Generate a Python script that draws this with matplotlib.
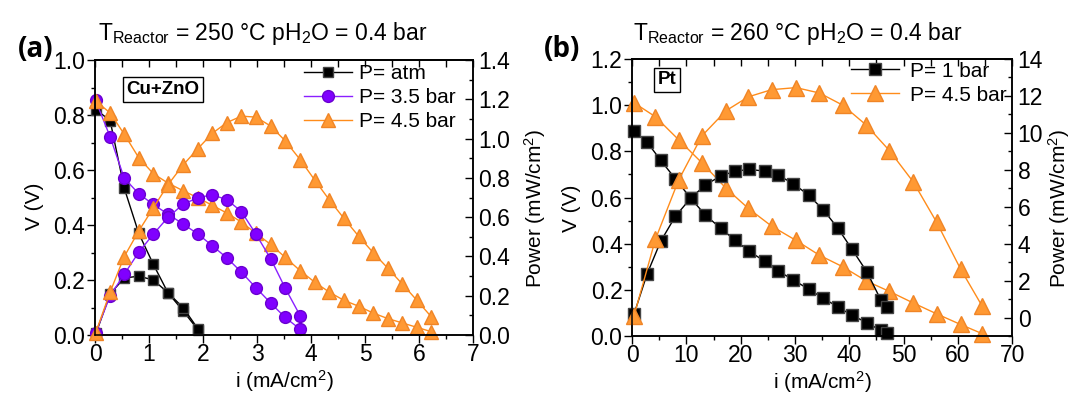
import matplotlib
matplotlib.use("Agg")
import matplotlib.pyplot as plt
from matplotlib.ticker import MultipleLocator

plt.rcParams['font.family'] = ['Liberation Sans', 'DejaVu Sans']
plt.rcParams['mathtext.fontset'] = 'custom'
plt.rcParams['mathtext.rm'] = 'Liberation Sans'
plt.rcParams['mathtext.it'] = 'Liberation Sans:italic'
plt.rcParams['mathtext.bf'] = 'Liberation Sans:bold'
plt.rcParams['axes.linewidth'] = 1.1

# ================= data, panel (a): Cu+ZnO, 250 C =================
i_a_atm = [0.02, 0.28, 0.54, 0.81, 1.08, 1.35, 1.63, 1.91]
v_a_atm = [0.82, 0.78, 0.535, 0.37, 0.257, 0.154, 0.088, 0.018]
p_a_atm = [0.01, 0.21, 0.29, 0.30, 0.28, 0.216, 0.14, 0.03]

i_a_35 = [0.01, 0.28, 0.54, 0.81, 1.08, 1.35, 1.63, 1.91, 2.17, 2.44, 2.71, 2.98, 3.26, 3.52, 3.80]
v_a_35 = [0.854, 0.721, 0.571, 0.514, 0.475, 0.44, 0.404, 0.367, 0.325, 0.281, 0.229, 0.172, 0.115, 0.064, 0.021]
p_a_35 = [0.01, 0.20, 0.309, 0.422, 0.514, 0.599, 0.666, 0.70, 0.714, 0.69, 0.629, 0.514, 0.385, 0.24, 0.098]

i_a_45 = [0.01, 0.28, 0.54, 0.81, 1.08, 1.35, 1.63, 1.90, 2.17, 2.44, 2.71, 2.98,
          3.25, 3.52, 3.80, 4.07, 4.34, 4.61, 4.88, 5.15, 5.42, 5.69, 5.96, 6.23]
v_a_45 = [0.852, 0.808, 0.731, 0.645, 0.587, 0.553, 0.525, 0.50, 0.472, 0.444, 0.411, 0.37,
          0.33, 0.283, 0.234, 0.192, 0.156, 0.126, 0.105, 0.08, 0.06, 0.044, 0.028, 0.012]
p_a_45 = [0.01, 0.219, 0.399, 0.53, 0.648, 0.765, 0.866, 0.948, 1.027, 1.082, 1.115, 1.11,
          1.065, 0.99, 0.893, 0.789, 0.688, 0.594, 0.504, 0.42, 0.341, 0.26, 0.177, 0.092]

# ================= data, panel (b): Pt, 260 C =================
i_b_1 = [0.37, 2.76, 5.27, 7.97, 10.78, 13.5, 16.3, 19.0, 21.6, 24.4, 26.96, 29.7,
         32.5, 35.2, 37.9, 40.5, 43.3, 45.8, 46.9]
v_b_1 = [0.886, 0.84, 0.761, 0.681, 0.597, 0.524, 0.467, 0.414, 0.367, 0.324, 0.281, 0.243,
         0.203, 0.164, 0.126, 0.09, 0.057, 0.024, 0.014]
p_b_1 = [0.2, 2.36, 4.13, 5.48, 6.46, 7.18, 7.66, 7.93, 8.02, 7.93, 7.70, 7.25,
         6.63, 5.84, 4.84, 3.70, 2.45, 0.96, 0.57]

i_b_45 = [0.37, 4.29, 8.58, 12.87, 17.3, 21.4, 25.7, 30.2, 34.5, 38.8, 43.1, 47.4,
          51.8, 56.1, 60.5, 64.5]
v_b_45 = [1.01, 0.95, 0.85, 0.75, 0.64, 0.553, 0.476, 0.414, 0.35, 0.30, 0.239, 0.193,
          0.143, 0.096, 0.05, 0.01]
p_b_45 = [0.11, 4.23, 7.45, 9.84, 11.2, 11.95, 12.34, 12.45, 12.16, 11.5, 10.43, 9.04,
          7.34, 5.16, 2.63, 0.61]

labels_a = ["P= atm", "P= 3.5 bar", "P= 4.5 bar"]
labels_b = ["P= 1 bar", "P= 4.5 bar"]

# ================= styles =================
BLACK = dict(color='black', marker='s', mfc='black', mec='#444444', lw=1.0)
PURPLE = dict(color='#8A1FFF', marker='o', mfc='#8000FF', mec='#6A00D0', lw=1.0)
ORANGE = dict(color='#FF8C1A', marker='^', mfc='#FF9933', mec='#F08526', lw=1.0)
FS = 15      # axis labels, legend
TFS = 16.5   # tick labels, header


def style_panel(ax, ax2, xmax, xmaj, xmin, ymax, ymaj, ymin, p_lim, pmaj, pmin):
    ax.set_xlim(0, xmax)
    ax.set_ylim(0, ymax)
    ax.xaxis.set_major_locator(MultipleLocator(xmaj))
    ax.xaxis.set_minor_locator(MultipleLocator(xmin))
    ax.yaxis.set_major_locator(MultipleLocator(ymaj))
    ax.yaxis.set_minor_locator(MultipleLocator(ymin))
    ax.tick_params(which='both', direction='out', labelsize=TFS, pad=1, width=1.0)
    ax.tick_params(axis='x', which='both', pad=0)
    ax.tick_params(which='major', length=6)
    ax.tick_params(which='minor', length=3)

    # ticks pointing inward along the top edge
    top = ax.secondary_xaxis('top')
    top.xaxis.set_major_locator(MultipleLocator(xmaj))
    top.xaxis.set_minor_locator(MultipleLocator(xmin))
    top.tick_params(which='both', direction='in', labeltop=False, length=5, width=1.0)

    ax2.set_ylim(*p_lim)
    ax2.yaxis.set_major_locator(MultipleLocator(pmaj))
    ax2.yaxis.set_minor_locator(MultipleLocator(pmin))
    ax2.tick_params(which='both', direction='in', labelsize=TFS, pad=4, width=1.0)
    ax2.tick_params(which='major', length=6)
    ax2.tick_params(which='minor', length=3)

    ax.set_xlabel("i (mA/cm$^2$)", fontsize=FS)
    ax.set_ylabel("V (V)", fontsize=FS)
    ax2.set_ylabel("Power (mW/cm$^2$)", fontsize=FS)


fig = plt.figure(figsize=(10.75, 3.96), dpi=100)

# ---------- panel (a) ----------
axA = fig.add_axes([0.0884, 0.154, 0.3516, 0.694])
axA2 = axA.twinx()
style_panel(axA, axA2, 7, 1, 0.5, 1.0, 0.2, 0.1, (0, 1.4), 0.2, 0.1)

hA = []
hA += axA.plot(i_a_atm, v_a_atm, ms=6.5, clip_on=False, label=labels_a[0], **BLACK)
hA += axA.plot(i_a_35, v_a_35, ms=8.5, clip_on=False, label=labels_a[1], **PURPLE)
hA += axA.plot(i_a_45, v_a_45, ms=10.5, clip_on=False, label=labels_a[2], **ORANGE)
axA2.plot(i_a_atm, p_a_atm, ms=6.5, clip_on=False, **BLACK)
axA2.plot(i_a_35, p_a_35, ms=8.5, clip_on=False, **PURPLE)
axA2.plot(i_a_45, p_a_45, ms=10.5, clip_on=False, **ORANGE)

axA2.legend(handles=hA, loc='upper right', bbox_to_anchor=(0.955, 0.985), frameon=False,
            fontsize=FS, borderpad=0, borderaxespad=0, handlelength=2.3,
            handletextpad=0.35, labelspacing=0.24, numpoints=1)

axA.text(0.18, 0.893, "Cu+ZnO", transform=axA.transAxes, fontsize=13.5, fontweight='bold',
         ha='center', va='center', zorder=5,
         bbox=dict(boxstyle='square,pad=0.2', fc='white', ec='black', lw=1.0))

axA.yaxis.set_label_coords(-0.135, 0.47)
axA2.yaxis.set_label_coords(1.13, 0.46)
axA.xaxis.set_label_coords(0.5, -0.12)

# ---------- panel (b) ----------
axB = fig.add_axes([0.588, 0.1515, 0.3535, 0.6995])
axB2 = axB.twinx()
style_panel(axB, axB2, 70, 10, 5, 1.2, 0.2, 0.1, (-1, 14), 2, 1)

hB = []
hB += axB.plot(i_b_1, v_b_1, ms=9, clip_on=False, label=labels_b[0], **BLACK)
hB += axB.plot(i_b_45, v_b_45, ms=11, clip_on=False, label=labels_b[1], **ORANGE)
axB2.plot(i_b_1, p_b_1, ms=9, clip_on=False, **BLACK)
axB2.plot(i_b_45, p_b_45, ms=11, clip_on=False, **ORANGE)

axB2.legend(handles=hB, loc='upper right', bbox_to_anchor=(0.985, 0.99), frameon=False,
            fontsize=FS, borderpad=0, borderaxespad=0, handlelength=2.3,
            handletextpad=0.5, labelspacing=0.24, numpoints=1)

axB.text(0.091, 0.925, "Pt", transform=axB.transAxes, fontsize=13.5, fontweight='bold',
         ha='center', va='center', zorder=5,
         bbox=dict(boxstyle='square,pad=0.2', fc='white', ec='black', lw=1.0))

axB.yaxis.set_label_coords(-0.135, 0.46)
axB2.yaxis.set_label_coords(1.09, 0.46)
axB.xaxis.set_label_coords(0.5, -0.12)

# ---------- headers ----------
fig.text(0.091, 0.899, r"T$_{\mathrm{Reactor}}$ = 250 °C pH$_{\mathrm{2}}$O = 0.4 bar",
         fontsize=TFS, ha='left', va='baseline')
fig.text(0.589, 0.899, r"T$_{\mathrm{Reactor}}$ = 260 °C pH$_{\mathrm{2}}$O = 0.4 bar",
         fontsize=TFS, ha='left', va='baseline')
fig.text(0.033, 0.874, "(a)", fontsize=20, fontweight='bold', family=['Open Sans', 'DejaVu Sans'],
         ha='center', va='center')
fig.text(0.523, 0.874, "(b)", fontsize=20, fontweight='bold', family=['Open Sans', 'DejaVu Sans'],
         ha='center', va='center')

fig.savefig("out.png", dpi=100)
